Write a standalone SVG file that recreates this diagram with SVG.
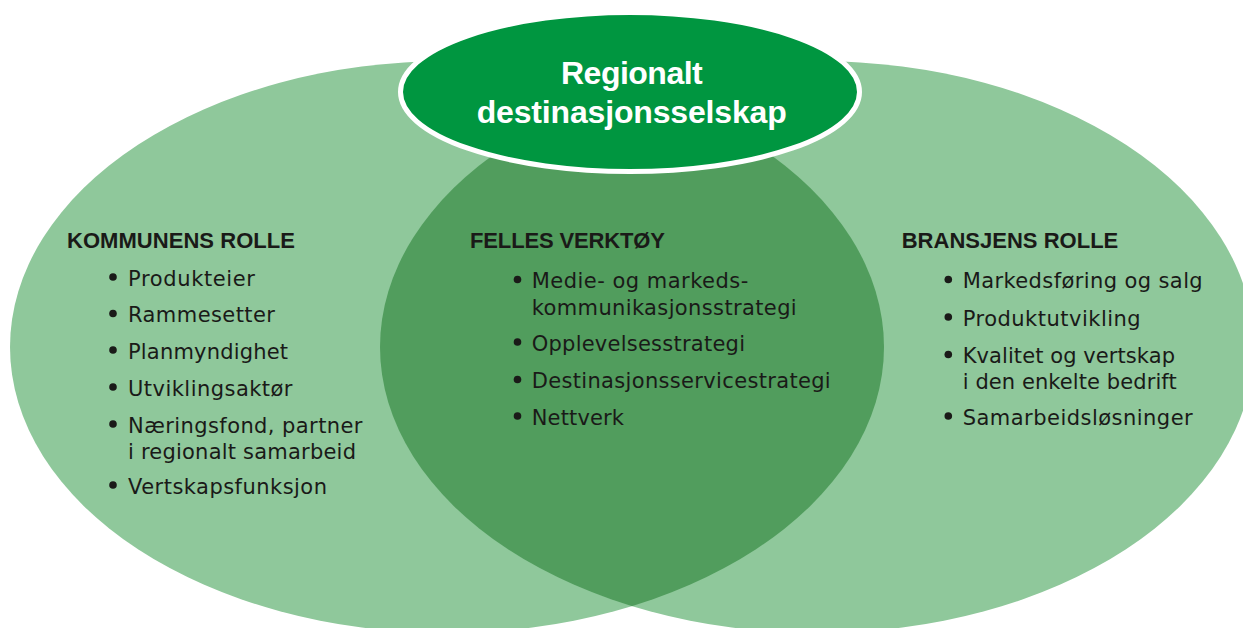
<svg xmlns="http://www.w3.org/2000/svg" width="1243" height="628" viewBox="0 0 1243 628">
<style>
.light{fill:#8fc89b}
.dark{fill:#519d5d}
.top{fill:#009640;stroke:#ffffff;stroke-width:5}
.head{font-family:"Liberation Sans",Arial,sans-serif;font-weight:bold;font-size:22px;fill:#1a1a18}
.item{font-family:"DejaVu Sans","Liberation Sans",sans-serif;font-size:21px;fill:#1a1a18}
.title{font-family:"Liberation Sans",Arial,sans-serif;font-weight:bold;font-size:32px;fill:#ffffff}
.dot{fill:#1a1a18}
</style>
<defs>
<clipPath id="leftClip"><ellipse cx="447" cy="347" rx="437" ry="286"/></clipPath>
</defs>
<rect width="1243" height="628" fill="#ffffff"/>
<g id="circles">
<ellipse class="light" cx="447" cy="347" rx="437" ry="286"/>
<ellipse class="light" cx="817" cy="347" rx="437" ry="286"/>
<ellipse class="dark" cx="817" cy="347" rx="437" ry="286" clip-path="url(#leftClip)"/>
</g>
<g id="kommune">
<text class="head" x="67" y="248.3" textLength="228" lengthAdjust="spacing">KOMMUNENS ROLLE</text>
<circle class="dot" cx="113" cy="277" r="3.8"/>
<text class="item" x="128" y="285.7" textLength="127" lengthAdjust="spacing">Produkteier</text>
<circle class="dot" cx="113" cy="313.5" r="3.8"/>
<text class="item" x="128" y="322.3" textLength="147" lengthAdjust="spacing">Rammesetter</text>
<circle class="dot" cx="113" cy="350" r="3.8"/>
<text class="item" x="128" y="359" textLength="160" lengthAdjust="spacing">Planmyndighet</text>
<circle class="dot" cx="113" cy="387" r="3.8"/>
<text class="item" x="128" y="395.7" textLength="164.5" lengthAdjust="spacing">Utviklingsaktør</text>
<circle class="dot" cx="113" cy="424" r="3.8"/>
<text class="item" x="128" y="432.7" textLength="234.5" lengthAdjust="spacing">Næringsfond, partner</text>
<text class="item" x="128" y="459.3" textLength="228" lengthAdjust="spacing">i regionalt samarbeid</text>
<circle class="dot" cx="113" cy="485" r="3.8"/>
<text class="item" x="128" y="494" textLength="199" lengthAdjust="spacing">Vertskapsfunksjon</text>
</g>
<g id="felles">
<text class="head" x="470" y="248.3" textLength="195" lengthAdjust="spacing">FELLES VERKTØY</text>
<circle class="dot" cx="517.5" cy="279.5" r="3.8"/>
<text class="item" x="531.7" y="288.3" textLength="216.6" lengthAdjust="spacing">Medie- og markeds-</text>
<text class="item" x="531.7" y="315" textLength="265" lengthAdjust="spacing">kommunikasjonsstrategi</text>
<circle class="dot" cx="517.5" cy="342" r="3.8"/>
<text class="item" x="531.7" y="350.7" textLength="213.3" lengthAdjust="spacing">Opplevelsesstrategi</text>
<circle class="dot" cx="517.5" cy="379.5" r="3.8"/>
<text class="item" x="531.7" y="388.3" textLength="299" lengthAdjust="spacing">Destinasjonsservicestrategi</text>
<circle class="dot" cx="517.5" cy="416" r="3.8"/>
<text class="item" x="531.7" y="425" textLength="92.3" lengthAdjust="spacing">Nettverk</text>
</g>
<g id="bransje">
<text class="head" x="901.7" y="248.3" textLength="216.6" lengthAdjust="spacing">BRANSJENS ROLLE</text>
<circle class="dot" cx="948.3" cy="279.5" r="3.8"/>
<text class="item" x="962.7" y="288.3" textLength="240" lengthAdjust="spacing">Markedsføring og salg</text>
<circle class="dot" cx="948.3" cy="317" r="3.8"/>
<text class="item" x="962.7" y="326" textLength="178" lengthAdjust="spacing">Produktutvikling</text>
<circle class="dot" cx="948.3" cy="354.5" r="3.8"/>
<text class="item" x="962.7" y="363.3" textLength="212.3" lengthAdjust="spacing">Kvalitet og vertskap</text>
<text class="item" x="962.7" y="389.3" textLength="214" lengthAdjust="spacing">i den enkelte bedrift</text>
<circle class="dot" cx="948.3" cy="416" r="3.8"/>
<text class="item" x="962.7" y="425" textLength="230" lengthAdjust="spacing">Samarbeidsløsninger</text>
</g>
<g id="regionalt">
<ellipse class="top" cx="630" cy="92" rx="229.5" ry="79.5"/>
<text class="title" x="561" y="84" textLength="141.7" lengthAdjust="spacing">Regionalt</text>
<text class="title" x="476.7" y="122.5" textLength="310" lengthAdjust="spacing">destinasjonsselskap</text>
</g>
</svg>
